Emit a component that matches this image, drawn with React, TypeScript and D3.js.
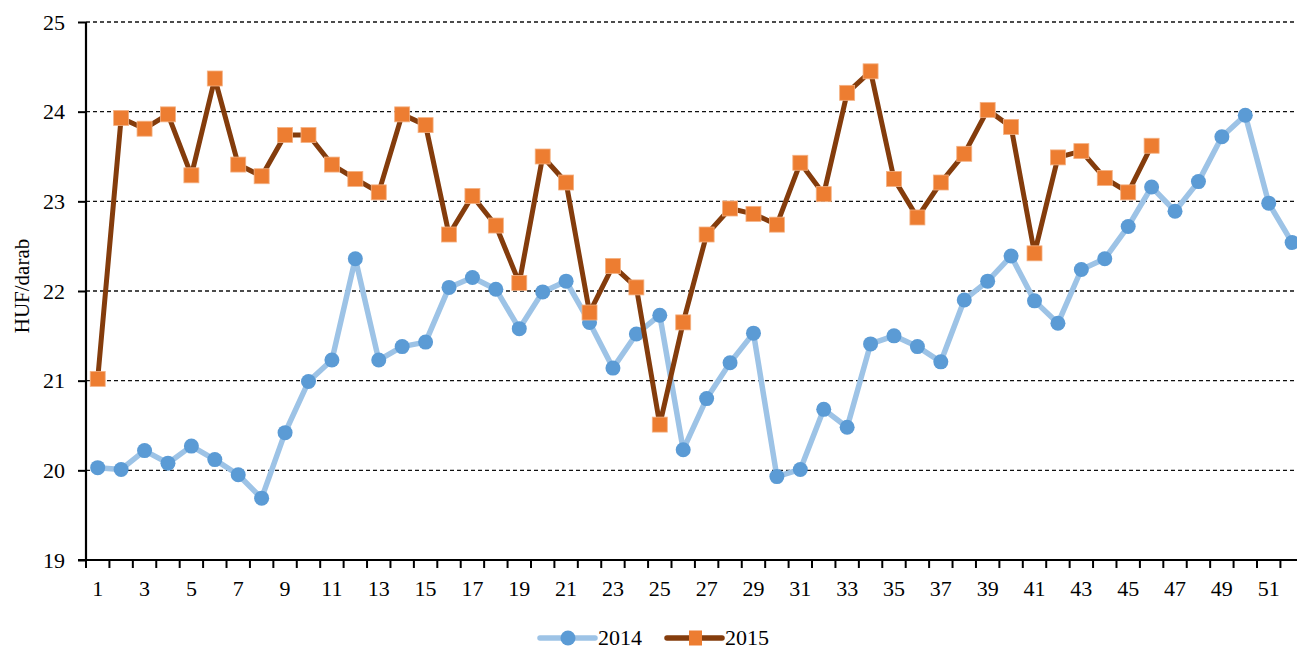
import React, { useEffect, useRef } from 'react'
import * as d3 from 'd3'

// week numbers 1..52
const weeks: number[] = d3.range(1, 53)

const values2014: number[] = [
  20.03, 20.01, 20.22, 20.08, 20.27, 20.12, 19.95, 19.69, 20.42, 20.99,
  21.23, 22.36, 21.23, 21.38, 21.43, 22.04, 22.15, 22.02, 21.58, 21.99,
  22.11, 21.65, 21.14, 21.52, 21.73, 20.23, 20.80, 21.20, 21.53, 19.93,
  20.01, 20.68, 20.48, 21.41, 21.50, 21.38, 21.21, 21.90, 22.11, 22.39,
  21.89, 21.64, 22.24, 22.36, 22.72, 23.16, 22.89, 23.22, 23.72, 23.96,
  22.98, 22.54,
]

const values2015: number[] = [
  21.02, 23.93, 23.81, 23.97, 23.29, 24.37, 23.41, 23.28, 23.74, 23.74,
  23.41, 23.25, 23.10, 23.97, 23.85, 22.63, 23.06, 22.73, 22.09, 23.50,
  23.21, 21.76, 22.28, 22.04, 20.51, 21.65, 22.63, 22.92, 22.86, 22.74,
  23.43, 23.08, 24.21, 24.45, 23.25, 22.82, 23.21, 23.53, 24.02, 23.83,
  22.42, 23.49, 23.56, 23.26, 23.10, 23.62,
]

const yTicks: number[] = [19, 20, 21, 22, 23, 24, 25]
const seriesNames: string[] = ['2014', '2015']

const App = () => {
  const svgRef = useRef<SVGSVGElement>(null)

  useEffect(() => {
    const width = 1297
    const height = 650
    const marginLeft = 86
    const marginTop = 22
    const bottom = 560
    const step = 23.42
    const font = '"Liberation Serif", "Times New Roman", serif'

    const svg = d3.select(svgRef.current)
    svg.selectAll('*').remove()
    svg.attr('width', width).attr('height', height)
      .attr('viewBox', [0, 0, width, height].join(' '))
      .style('font-family', font)

    const x = d3.scaleBand<number>()
      .domain(weeks)
      .range([marginLeft, marginLeft + weeks.length * step])
      .padding(0)
    const cx = (w: number) => (x(w) as number) + x.bandwidth() / 2

    const y = d3.scaleLinear().domain([19, 25]).range([bottom, marginTop])

    // dashed grid lines
    svg.append('g')
      .selectAll('line')
      .data(yTicks.slice(1))
      .join('line')
      .attr('x1', marginLeft)
      .attr('x2', width)
      .attr('y1', d => y(d))
      .attr('y2', d => y(d))
      .attr('stroke', '#111')
      .attr('stroke-width', 1.3)
      .attr('stroke-dasharray', '4,3')

    // y axis
    svg.append('g')
      .attr('transform', `translate(${marginLeft},0)`)
      .call(d3.axisLeft(y).tickValues(yTicks).tickSize(8).tickPadding(13).tickFormat(d3.format('d')))
      .call(g => g.select('.domain').attr('stroke', '#000').attr('stroke-width', 2.2)
        .attr('d', `M0,${marginTop}V${bottom}`))
      .call(g => g.selectAll('.tick line').attr('stroke', '#000').attr('stroke-width', 2))
      .call(g => g.selectAll('.tick text')
        .attr('font-family', font).attr('font-size', 22).attr('fill', '#000'))

    // x axis
    const xg = svg.append('g')
    xg.append('line')
      .attr('x1', marginLeft - 8).attr('x2', width)
      .attr('y1', bottom).attr('y2', bottom)
      .attr('stroke', '#000').attr('stroke-width', 2.2)
    xg.selectAll('line.tk')
      .data(weeks)
      .join('line')
      .attr('class', 'tk')
      .attr('x1', d => x(d) as number)
      .attr('x2', d => x(d) as number)
      .attr('y1', bottom)
      .attr('y2', bottom + 8)
      .attr('stroke', '#000').attr('stroke-width', 2)
    xg.selectAll('text')
      .data(weeks.filter(d => d % 2 === 1))
      .join('text')
      .attr('x', d => cx(d))
      .attr('y', bottom + 36)
      .attr('text-anchor', 'middle')
      .attr('font-size', 22)
      .text(d => d)

    // y label
    svg.append('text')
      .attr('transform', `translate(29,286) rotate(-90)`)
      .attr('text-anchor', 'middle')
      .attr('font-size', 21)
      .text('HUF/darab')

    // 2014 line
    const line = d3.line<number>()
      .x((_, i) => cx(weeks[i]))
      .y(d => y(d))

    svg.append('path')
      .attr('fill', 'none')
      .attr('stroke', '#9DC3E6')
      .attr('stroke-width', 5.5)
      .attr('stroke-linejoin', 'round')
      .attr('d', line(values2014))

    svg.append('g')
      .selectAll('circle')
      .data(values2014)
      .join('circle')
      .attr('cx', (_, i) => cx(weeks[i]))
      .attr('cy', d => y(d))
      .attr('r', 7.5)
      .attr('fill', '#5B9BD5')

    // 2015 line
    svg.append('path')
      .attr('fill', 'none')
      .attr('stroke', '#843C0C')
      .attr('stroke-width', 5)
      .attr('stroke-linejoin', 'round')
      .attr('d', line(values2015))

    svg.append('g')
      .selectAll('rect')
      .data(values2015)
      .join('rect')
      .attr('x', (_, i) => cx(weeks[i]) - 7.5)
      .attr('y', d => y(d) - 7.5)
      .attr('width', 15)
      .attr('height', 15)
      .attr('fill', '#ED7D31')
      .attr('stroke', '#F4B183')
      .attr('stroke-width', 0.8)

    // legend
    const legend = svg.append('g').attr('transform', 'translate(540,638)')
    const items = [
      { name: seriesNames[0], line: '#9DC3E6', mark: '#5B9BD5', shape: 'circle', dx: 0 },
      { name: seriesNames[1], line: '#843C0C', mark: '#ED7D31', shape: 'rect', dx: 127 },
    ]
    items.forEach(it => {
      const g = legend.append('g').attr('transform', `translate(${it.dx},0)`)
      g.append('line')
        .attr('x1', 0).attr('x2', 55)
        .attr('y1', 0).attr('y2', 0)
        .attr('stroke', it.line).attr('stroke-width', 5.5)
        .attr('stroke-linecap', 'round')
      if (it.shape === 'circle') {
        g.append('circle').attr('cx', 28).attr('cy', 0).attr('r', 7.5).attr('fill', it.mark)
      } else {
        g.append('rect').attr('x', 22).attr('y', -7.5).attr('width', 13).attr('height', 15).attr('fill', it.mark)
      }
      g.append('text')
        .attr('x', 58)
        .attr('y', 7)
        .attr('font-size', 22)
        .text(it.name)
    })
  }, [])

  return (
    <svg ref={svgRef} style={{ position: 'absolute', left: 0, top: 0, background: '#fff' }} />
  )
}

export default App
